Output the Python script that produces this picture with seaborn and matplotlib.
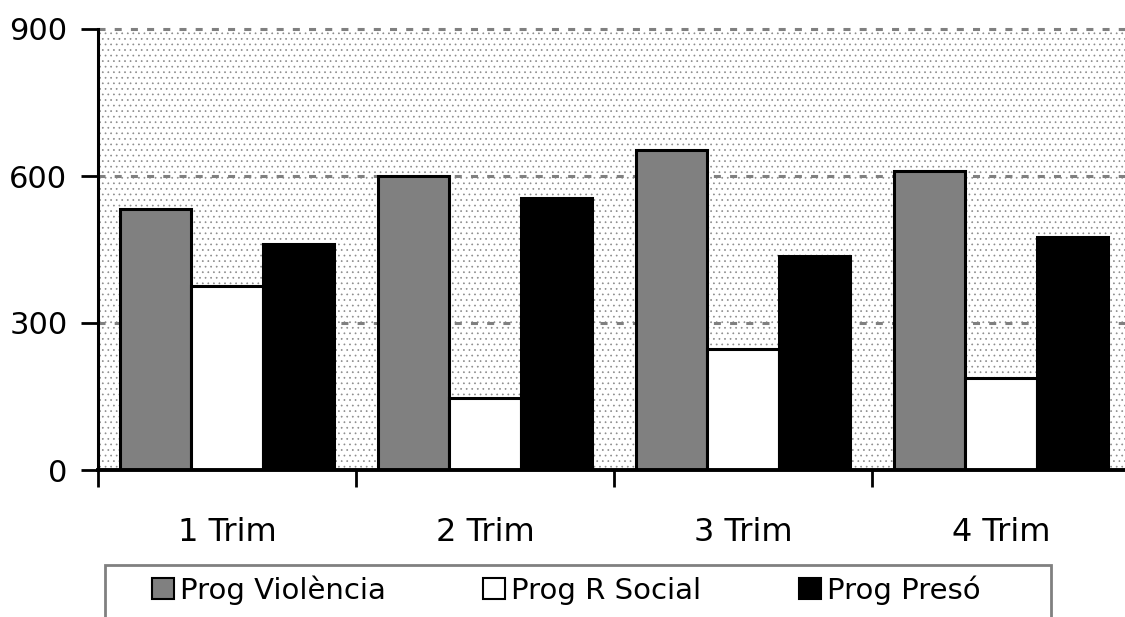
import matplotlib
matplotlib.use('Agg')
import matplotlib.pyplot as plt
import matplotlib.patches as mpatches
import seaborn as sns
import pandas as pd
import numpy as np

trims = ['1 Trim', '2 Trim', '3 Trim', '4 Trim']
progs = ['Prog Violència', 'Prog R Social', 'Prog Presó']
violencia = [533, 601, 653, 611]
r_social = [376, 147, 247, 188]
preso = [461, 555, 437, 476]
colors = ['#808080', '#ffffff', '#000000']

rows = []
for p, vals in zip(progs, [violencia, r_social, preso]):
    for t, v in zip(trims, vals):
        rows.append({'trim': t, 'prog': p, 'val': v})
df = pd.DataFrame(rows)

sns.set_style('white')
plt.rcParams['font.family'] = ['DejaVu Sans']
plt.rcParams['hatch.color'] = '#8c8c8c'
plt.rcParams['hatch.linewidth'] = 0.5

fig = plt.figure(figsize=(11.25, 6.17), dpi=100)
ax = fig.add_axes([98/1125, 1-470/617, 1032/1125, 441/617])

# dotted background
ax.add_patch(mpatches.Rectangle((0, 0), 1, 1, transform=ax.transAxes, facecolor='white',
                                edgecolor='#8c8c8c', hatch='...', linewidth=0, zorder=0))

sns.barplot(data=df, x='trim', y='val', hue='prog', palette=colors, width=0.833,
            edgecolor='black', linewidth=2.2, saturation=1, legend=False, ax=ax, zorder=3)

ax.set_xlim(-0.5, 3.5)
ax.set_ylim(0, 900)
ax.set_yticks([0, 300, 600, 900])
for y in [300, 600, 900]:
    ax.axhline(y, color='#808080', lw=2.2, ls=(0, (2.3, 3)), zorder=1, clip_on=False)

ax.set_xlabel('')
ax.set_ylabel('')
for s in ['top', 'right']:
    ax.spines[s].set_visible(False)
ax.spines['left'].set_linewidth(2.2)
ax.spines['bottom'].set_linewidth(2.8)
ax.spines['left'].set_color('black')
ax.spines['bottom'].set_color('black')
ax.spines['bottom'].set_zorder(5)

ax.set_xticks(range(4))
ax.set_xticks([-0.5, 0.5, 1.5, 2.5], minor=True)
ax.tick_params(axis='x', which='major', length=0, pad=34, labelsize=23, labelcolor='black')
ax.tick_params(axis='x', which='minor', length=12, width=2, direction='out', color='black', bottom=True)
ax.tick_params(axis='y', length=12, width=2, direction='out', color='black', left=True, pad=10,
               labelsize=22, labelcolor='black')

# legend frame
fig.patches.append(mpatches.Rectangle((105/1125, -0.05), (1051-105)/1125, 0.05+1-565/617,
                                      transform=fig.transFigure, facecolor='white',
                                      edgecolor='#808080', linewidth=2, zorder=0))
handles = [mpatches.Patch(facecolor=c, edgecolor='black', linewidth=1.5) for c in colors]
leg = fig.legend(handles, progs, loc='center left', ncol=3,
                 bbox_to_anchor=(152/1125, 1-590/617),
                 fontsize=21, frameon=False, handlelength=0.75, handleheight=0.75,
                 handletextpad=0.2, columnspacing=3.35, borderpad=0, borderaxespad=0)
for t in leg.get_texts():
    t.set_color('black')

fig.savefig('out.png', dpi=100)
